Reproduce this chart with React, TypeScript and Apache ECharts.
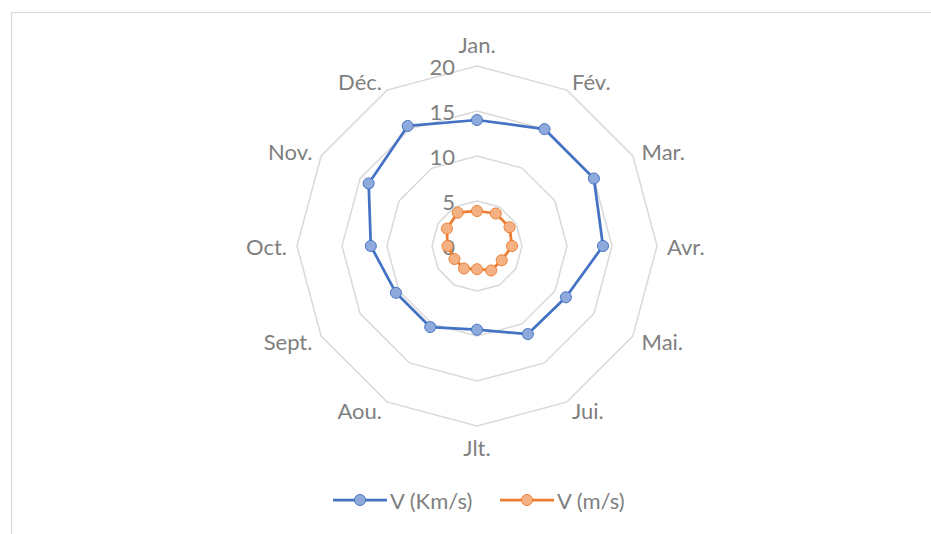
import React, { useEffect, useRef } from "react";
import * as echarts from "echarts";

// Months in clockwise order starting at the top
const months = ["Jan.", "Fév.", "Mar.", "Avr.", "Mai.", "Jui.", "Jlt.", "Aou.", "Sept.", "Oct.", "Nov.", "Déc."];
const speedKmS = [14.0, 15.0, 15.0, 14.0, 11.4, 11.3, 9.3, 10.4, 10.4, 11.8, 13.9, 15.4];
const speedMS = [3.89, 4.17, 4.17, 3.89, 3.17, 3.14, 2.58, 2.89, 2.89, 3.28, 3.86, 4.28];
const seriesNames = ["V (Km/s)", "V (m/s)"];
const lineColors = ["#4472c4", "#ed7d31"];
const markerFills = ["#8ea9db", "#f4b183"];
const axisMax = 20;

const FONT = "Lato, 'Open Sans', sans-serif";
const FONT_SIZE = 22;
const GREY = "#7f7f7f";

// ECharts lays radar indicators out counter-clockwise; reorder so months run clockwise.
const order = [0, ...Array.from({ length: months.length - 1 }, (_, i) => months.length - 1 - i)];
const reorder = <T,>(arr: T[]) => order.map((i) => arr[i]);

// Legend entries: a short line with a marker, followed by the series name
function legendGraphic() {
  const starts = [333, 500];
  return seriesNames.map((name, i) => ({
    type: "group",
    x: starts[i],
    y: 500,
    silent: true,
    children: [
      {
        type: "line",
        shape: { x1: 0, y1: 0, x2: 54, y2: 0 },
        style: { stroke: lineColors[i], lineWidth: 2.75 },
      },
      {
        type: "circle",
        shape: { cx: 27, cy: 0, r: 5.5 },
        style: { fill: markerFills[i], stroke: lineColors[i], lineWidth: 1 },
      },
      {
        type: "text",
        x: 57,
        y: 0,
        style: {
          text: name,
          fill: GREY,
          font: `${FONT_SIZE}px ${FONT}`,
          verticalAlign: "middle",
          align: "left",
        },
      },
    ],
  }));
}

export default function App() {
  const ref = useRef<HTMLDivElement>(null);

  useEffect(() => {
    document.body.style.margin = "0";
    if (!ref.current) return;
    const chart = echarts.init(ref.current, null, { renderer: "svg" });

    const indicator = reorder(months).map((name, idx) => ({
      name,
      min: 0,
      max: axisMax,
      ...(idx === 0
        ? {
            axisLabel: {
              show: true,
              color: GREY,
              fontSize: FONT_SIZE,
              fontFamily: FONT,
              margin: 22,
              showMinLabel: true,
              showMaxLabel: true,
            },
          }
        : {}),
    }));

    chart.setOption({
      animation: false,
      backgroundColor: "#ffffff",
      graphic: [
        {
          type: "polyline",
          shape: { points: [[11.5, 534], [11.5, 12.5], [931, 12.5]] },
          style: { stroke: "#d9d9d9", lineWidth: 1.2, fill: null },
          silent: true,
        },
        ...legendGraphic(),
      ],
      radar: {
        center: [477, 246],
        radius: 180,
        startAngle: 90,
        splitNumber: 4,
        shape: "polygon",
        indicator,
        axisName: { color: GREY, fontSize: FONT_SIZE, fontFamily: FONT },
        nameGap: 10,
        axisLine: { show: false },
        axisTick: { show: false },
        axisLabel: { show: false },
        splitArea: { show: false },
        splitLine: { lineStyle: { color: "#d9d9d9", width: 1.5 } },
      },
      series: [
        {
          type: "radar",
          symbol: "circle",
          symbolSize: 11,
          data: seriesNames.map((name, i) => ({
            name,
            value: reorder(i === 0 ? speedKmS : speedMS),
            lineStyle: { color: lineColors[i], width: 2.75 },
            itemStyle: { color: markerFills[i], borderColor: lineColors[i], borderWidth: 1 },
          })),
        },
      ],
    });

    return () => chart.dispose();
  }, []);

  return <div ref={ref} style={{ width: 931, height: 534 }} />;
}
